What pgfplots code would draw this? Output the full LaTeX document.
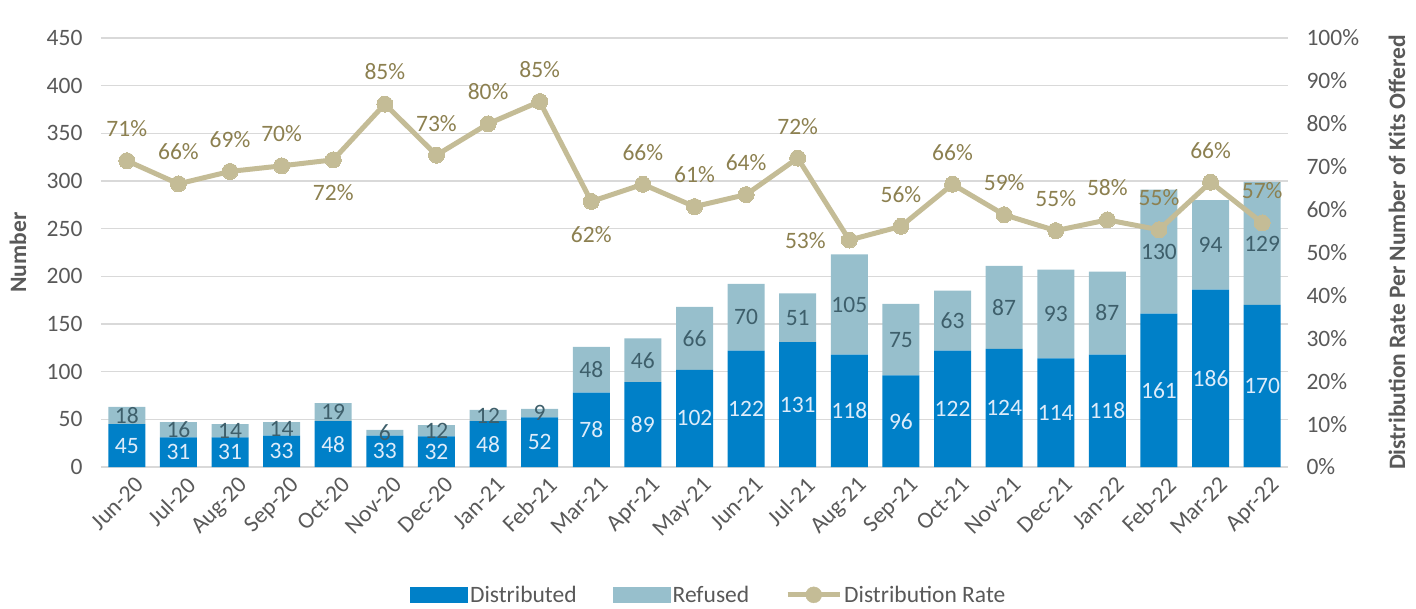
\documentclass[border=0pt]{standalone}
\usepackage{pgfplots}
\pgfplotsset{compat=1.18}
\usepackage{pgfplotstable}
\usepackage{fontspec}
\setmainfont{Carlito}

\definecolor{dist}{RGB}{0,128,200}
\definecolor{refc}{RGB}{151,191,204}
\definecolor{refText}{RGB}{62,95,107}
\definecolor{distText}{RGB}{222,236,250}
\definecolor{linec}{RGB}{196,188,150}
\definecolor{rateText}{RGB}{140,128,80}
\definecolor{tickgray}{RGB}{89,89,89}
\definecolor{gridgray}{RGB}{217,217,217}

\pgfplotstableread{
x d r rate dx dy
0 45 18 71.4 0 32
1 31 16 66.0 0 32
2 31 14 68.9 0 32
3 33 14 70.2 0 32
4 48 19 71.6 0 -33
5 33 6 84.6 0 32
6 32 12 72.7 0 32
7 48 12 80.0 0 32
8 52 9 85.2 0 32
9 78 48 61.9 0 -33
10 89 46 65.9 0 32
11 102 66 60.7 0 32
12 122 70 63.5 0 32
13 131 51 72.0 0 32
14 118 105 52.9 -44 -1
15 96 75 56.1 0 32
16 122 63 65.9 0 32
17 124 87 58.8 0 32
18 114 93 55.1 0 32
19 118 87 57.6 0 32
20 161 130 55.3 0 32
21 186 94 66.4 0 32
22 170 129 56.9 0 32
}\data

\begin{document}
\begin{tikzpicture}
\pgfplotsset{
  base/.style={scale only axis, width=1187pt, height=429pt,
    xmin=-0.5, xmax=22.5,
    /pgf/number format/assume math mode=true,
    ticklabel style={font=\fontsize{23.5}{28}\selectfont, text=tickgray},
    major tick length=0pt},
}
\begin{axis}[base, name=main,
  ymin=0, ymax=450, ytick={0,50,...,450},
  ybar stacked, bar width=37pt,
  axis x line*=bottom, axis y line*=left,
  y axis line style={draw=none},
  x axis line style={draw=gridgray, line width=1.5pt, -},
  ymajorgrids, grid style={draw=gridgray, line width=1.5pt},
  xtick={0,...,22},
  xticklabels={Jun-20,Jul-20,Aug-20,Sep-20,Oct-20,Nov-20,Dec-20,Jan-21,Feb-21,Mar-21,Apr-21,May-21,Jun-21,Jul-21,Aug-21,Sep-21,Oct-21,Nov-21,Dec-21,Jan-22,Feb-22,Mar-22,Apr-22},
  xticklabel style={rotate=45, anchor=north east, inner sep=2pt, xshift=1pt, yshift=-9pt},
  yticklabel style={xshift=-15pt},
  ylabel={Number},
  every axis y label/.style={at={(axis description cs:-0.0699,0.5)}, rotate=90, anchor=center,
     font=\bfseries\fontsize{23.5}{28}\selectfont, text=tickgray},
  legend style={at={(0.512,-0.298)}, anchor=center, draw=none, fill=none,
     font=\fontsize{23.5}{28}\selectfont, text=tickgray,
     /tikz/every even column/.append style={column sep=34pt}},
  legend columns=3, legend cell align=left,
]
\coordinate (O) at (rel axis cs:0,0);
\addplot[fill=dist, draw=none,
  legend image code/.code={\fill[dist] (0pt,-8pt) rectangle (58pt,8pt);}]
  table[x=x, y=d] {\data};
\addlegendentry{Distributed}
\addplot[fill=refc, draw=none,
  legend image code/.code={\fill[refc] (0pt,-8pt) rectangle (58pt,8pt);}]
  table[x=x, y=r] {\data};
\addlegendentry{Refused}
\addlegendimage{legend image code/.code={\draw[linec, line width=5pt] (0pt,0pt) -- (52pt,0pt); \fill[linec] (26pt,0pt) circle (8pt);}}
\addlegendentry{Distribution Rate}
\end{axis}

\begin{axis}[base, ymin=0, ymax=450, hide axis, xtick=\empty, ytick=\empty]
\addplot[draw=none, nodes near coords, point meta=explicit,
  nodes near coords style={font=\fontsize{23.5}{28}\selectfont, text=distText, anchor=center}]
  table[x=x, y expr=\thisrow{d}/2, meta=d] {\data};
\addplot[draw=none, nodes near coords, point meta=explicit,
  nodes near coords style={font=\fontsize{23.5}{28}\selectfont, text=refText, anchor=center}]
  table[x=x, y expr=\thisrow{d}+\thisrow{r}/2, meta=r] {\data};
\end{axis}

\begin{axis}[base, ymin=0, ymax=100, ytick={0,10,...,100}, xtick=\empty,
  yticklabel={\pgfmathprintnumber{\tick}\%},
  axis y line*=right, axis x line=none,
  y axis line style={draw=none},
  yticklabel style={xshift=15pt},
  ylabel={Distribution Rate Per Number of Kits Offered},
  every axis y label/.style={at={(axis description cs:1.0918,0.5)}, rotate=90, anchor=center,
     font=\bfseries\fontsize{23.5}{28}\selectfont, text=tickgray},
]
\addplot[linec, line width=5pt, mark=*, mark size=8pt,
  mark options={fill=linec, draw=linec, line width=0pt},
  visualization depends on={\thisrow{dx}\as\dx},
  visualization depends on={\thisrow{dy}\as\dy},
  point meta=explicit,
  nodes near coords={\pgfmathprintnumber[fixed,precision=0]{\pgfplotspointmeta}\%},
  every node near coord/.append style={anchor=center, xshift=\dx pt, yshift=\dy pt,
     font=\fontsize{23.5}{28}\selectfont, text=rateText}]
  table[x=x, y=rate, meta=rate] {\data};
\end{axis}

\pgfresetboundingbox
\path ([xshift=-101pt,yshift=-141pt]O) rectangle ++(1416pt,608pt);
\end{tikzpicture}
\end{document}
